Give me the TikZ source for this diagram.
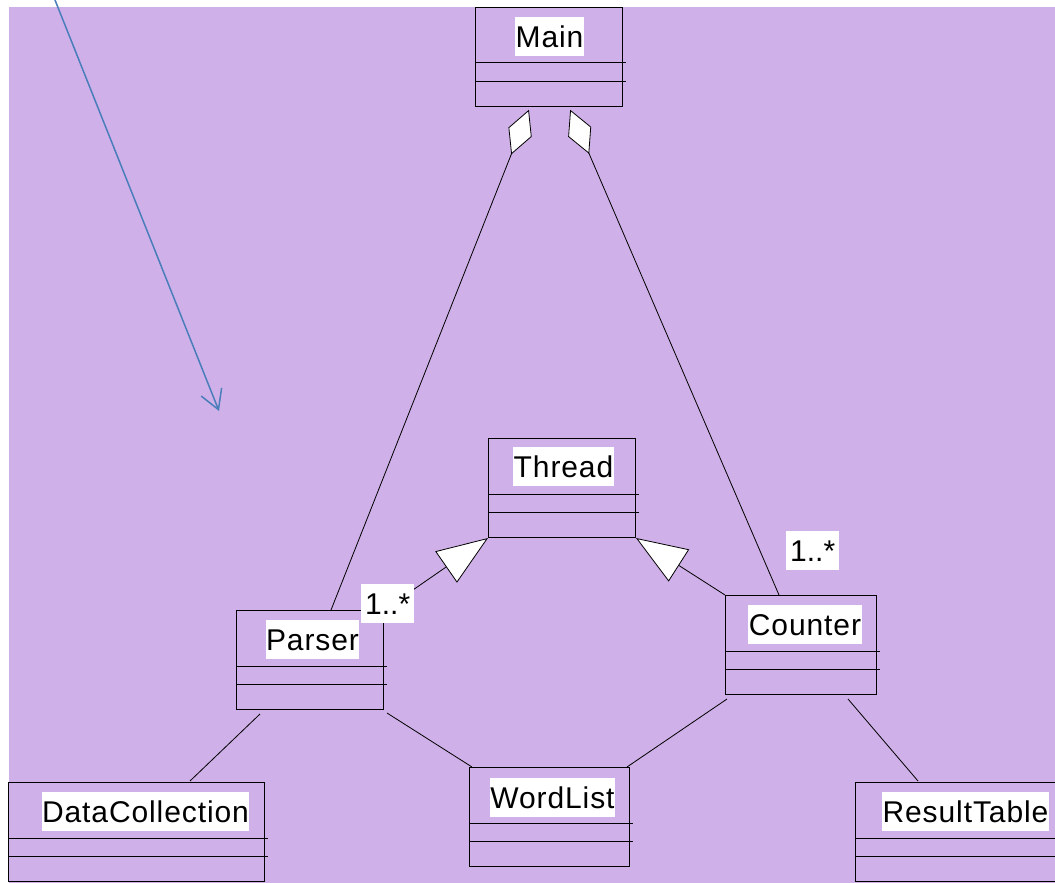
\documentclass[tikz,border=0pt]{standalone}
\usepackage{fontspec}
\setmainfont{Liberation Sans}
\newfontfamily\umlfont[LetterSpace=3]{Liberation Sans}
\usetikzlibrary{arrows.meta,calc,positioning}
\definecolor{Lilac}{HTML}{CFB0E8}
\definecolor{HintBlue}{HTML}{4A7EBB}
\tikzset{
  classbox/.style={
    draw=black, line width=1pt, minimum height=99pt,
    inner sep=0pt, anchor=north west
  },
  classname/.style={
    fill=white, inner xsep=0.5pt, inner ysep=2.5pt, anchor=north,
    text height=27.5pt, text depth=6.5pt, font=\umlfont\fontsize{30}{34}\selectfont
  },
  mult/.style={classname, inner xsep=4pt, anchor=north west, font=\fontsize{30}{34}\selectfont},
  assoc/.style={line width=0.8pt, draw=black},
  aggregation/.style={assoc, {Diamond[fill=white,length=48pt,width=25pt]}-, shorten <=3pt},
  inherit/.style={assoc, -{Triangle[fill=white,length=51pt,width=38pt]}},
  hint/.style={-{Straight Barb[length=19pt,width=22pt]}, line width=1.5pt, draw=HintBlue}
}

\begin{document}
\begin{tikzpicture}[x=1pt,y=-1pt]
    \useasboundingbox (0,0) rectangle (1055,883);
    \fill[Lilac] (9,7) rectangle (1055,883);

    % classes
    \node[classbox,minimum width=147pt] (main) at (475,7) {};
    \node[classname,xshift=0.5pt,yshift=-10pt] (main-name) at (main.north) {Main};
    \node[classbox,minimum width=147pt] (thread) at (488,438) {};
    \node[classname,xshift=1.5pt,yshift=-9pt] (thread-name) at (thread.north) {Thread};
    \node[classbox,minimum width=147pt] (parser) at (236,610) {};
    \node[classname,xshift=2.5pt,yshift=-10pt] (parser-name) at (parser.north) {Parser};
    \node[classbox,minimum width=151pt] (counter) at (725,595) {};
    \node[classname,xshift=4pt,yshift=-10pt] (counter-name) at (counter.north) {Counter};
    \node[classbox,minimum width=256pt] (datacoll) at (8,782) {};
    \node[classname,xshift=9pt,yshift=-10pt] (datacoll-name) at (datacoll.north) {DataCollection};
    \node[classbox,minimum width=160pt] (wordlist) at (469,767) {};
    \node[classname,xshift=3pt,yshift=-11pt] (wordlist-name) at (wordlist.north) {WordList};
    \node[classbox,minimum width=220pt] (result) at (855,782) {};
    \node[classname,yshift=-10pt] (result-name) at (result.north) {ResultTable};

    % compartments
    \foreach \c in {main,thread,parser,counter,datacoll,wordlist,result}{
      \draw[line width=1pt] ([yshift=-56pt]\c.north west) -- ([xshift=3pt,yshift=-56pt]\c.north east);
      \draw[line width=1pt] ([yshift=-74.5pt]\c.north west) -- ([xshift=3pt,yshift=-74.5pt]\c.north east);
    }

    % relations
    \draw[aggregation] ($(main.south west)+(55,0)$) -- ($(parser.north west)+(95,0)$);
    \draw[aggregation] ($(main.south west)+(94,0)$) -- ($(counter.north west)+(54,0)$);
    \draw[inherit] (parser.north east) -- (thread.south west);
    \draw[inherit] (counter.north west) -- (thread.south east);
    \draw[assoc] ($(parser.south west)+(24,4)$) -- ($(datacoll.north west)+(182,-1)$);
    \draw[assoc] ($(parser.south east)+(3,3)$) -- ($(wordlist.north west)+(3,0)$);
    \draw[assoc] ($(counter.south west)+(2,4)$) -- ($(wordlist.north east)+(-3,0)$);
    \draw[assoc] ($(counter.south east)+(-29,4)$) -- ($(result.north west)+(63,-1)$);

    % multiplicities
    \node[mult] (parser-mult) at ($(parser.north east)+(-23,-26)$) {1..*};
    \node[mult] (counter-mult) at ($(counter.north west)+(61,-64)$) {1..*};

    % pointer
    \coordinate (hint-start) at (55,0);
    \coordinate (hint-end) at (219,411);
    \draw[hint] (hint-start) -- (hint-end);
  \end{tikzpicture}
\end{document}
